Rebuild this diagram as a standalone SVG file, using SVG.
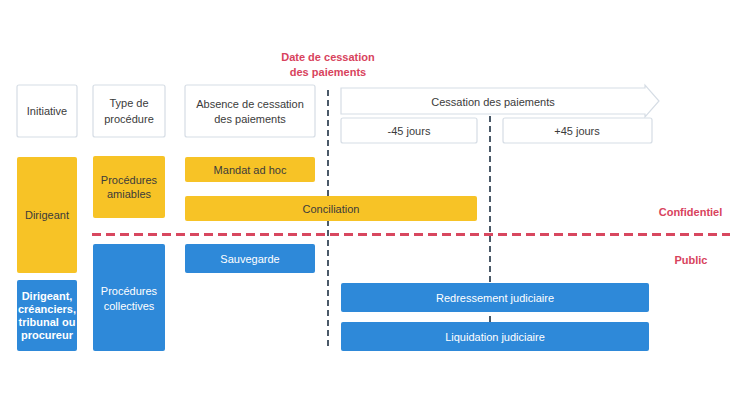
<svg xmlns="http://www.w3.org/2000/svg" width="730" height="410" viewBox="0 0 730 410">
<style>
text{font-family:"Liberation Sans",Arial,sans-serif;text-anchor:middle;font-size:11px;fill:#3b3b3b}
.hdr{fill:#ffffff;stroke:#d6dde5;stroke-width:1.2}
.y{fill:#f7c326}
.b{fill:#2e89d9}
.w{fill:#ffffff}
.red{fill:#d8435d;font-weight:bold}
.vdash{stroke:#4a5968;stroke-width:2;stroke-dasharray:6 4;fill:none}
.hdash{stroke:#d8475f;stroke-width:3;stroke-dasharray:9 5;fill:none}
</style>
<rect width="730" height="410" fill="#ffffff"/>
<g id="connectors">
<line class="vdash" x1="328" y1="90" x2="328" y2="348"/>
<line class="vdash" x1="490" y1="116" x2="490" y2="345"/>
<line class="hdash" x1="92" y1="234.5" x2="730" y2="234.5"/>
</g>
<g id="date-cessation">
<text class="red" x="328" y="61" font-size="11.5">Date de cessation</text>
<text class="red" x="328" y="76" font-size="11.5">des paiements</text>
</g>
<g id="initiative">
<rect class="hdr" x="17" y="85" width="60" height="52" rx="2"/>
<text x="47" y="115">Initiative</text>
</g>
<g id="type-procedure">
<rect class="hdr" x="93" y="85" width="72" height="52" rx="2"/>
<text x="129" y="107">Type de</text>
<text x="129" y="123">procédure</text>
</g>
<g id="absence">
<rect class="hdr" x="185" y="85" width="130" height="52" rx="2"/>
<text x="250" y="108">Absence de cessation</text>
<text x="250" y="123">des paiements</text>
</g>
<g id="cessation">
<path class="hdr" d="M341,88 H645 V85 L659,101 L645,117 V114 H341 Z"/>
<text x="493" y="106">Cessation des paiements</text>
</g>
<g id="moins45">
<rect class="hdr" x="341" y="118" width="136" height="25" rx="2"/>
<text x="409" y="135">-45 jours</text>
</g>
<g id="plus45">
<rect class="hdr" x="503" y="118" width="149" height="25" rx="2"/>
<text x="577" y="135">+45 jours</text>
</g>
<g id="dirigeant">
<rect class="y" x="17" y="157" width="60" height="116" rx="2"/>
<text x="47" y="219">Dirigeant</text>
</g>
<g id="amiables">
<rect class="y" x="93" y="156" width="72" height="62" rx="2"/>
<text x="129" y="184">Procédures</text>
<text x="129" y="198">amiables</text>
</g>
<g id="mandat">
<rect class="y" x="185" y="157" width="130" height="25" rx="2"/>
<text x="250" y="174">Mandat ad hoc</text>
</g>
<g id="conciliation">
<rect class="y" x="185" y="196" width="292" height="25" rx="2"/>
<text x="331" y="213">Conciliation</text>
</g>
<g id="confidentiel">
<text class="red" x="690.5" y="216" font-size="13">Confidentiel</text>
</g>
<g id="public">
<text class="red" x="691" y="264" font-size="13">Public</text>
</g>
<g id="multi">
<rect class="b" x="17" y="280" width="60" height="71" rx="2"/>
<text class="w" x="47" y="300" font-size="9" font-weight="bold">Dirigeant,</text>
<text class="w" x="47" y="313" font-size="9" font-weight="bold">créanciers,</text>
<text class="w" x="47" y="326" font-size="9" font-weight="bold">tribunal ou</text>
<text class="w" x="47" y="339" font-size="9" font-weight="bold">procureur</text>
</g>
<g id="collectives">
<rect class="b" x="93" y="244" width="72" height="107" rx="2"/>
<text class="w" x="129" y="295">Procédures</text>
<text class="w" x="129" y="310">collectives</text>
</g>
<g id="sauvegarde">
<rect class="b" x="185" y="244" width="130" height="29" rx="2"/>
<text class="w" x="250" y="262.5">Sauvegarde</text>
</g>
<g id="redressement">
<rect class="b" x="341" y="283" width="308" height="29" rx="2"/>
<text class="w" x="495" y="302">Redressement judiciaire</text>
</g>
<g id="liquidation">
<rect class="b" x="341" y="322" width="308" height="29" rx="2"/>
<text class="w" x="495" y="341">Liquidation judiciaire</text>
</g>
</svg>
